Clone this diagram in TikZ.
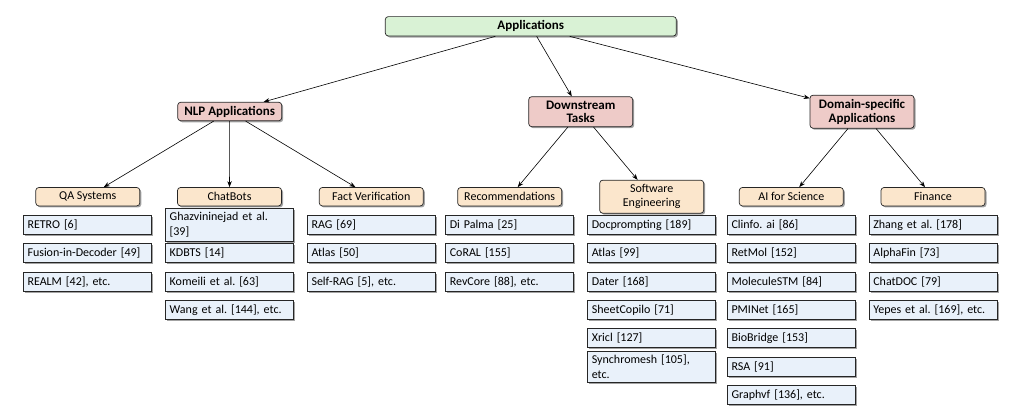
\documentclass[tikz,border=0pt]{standalone}
\usepackage{fontspec}
\setmainfont{Carlito}
\usetikzlibrary{shadows,arrows.meta}
\frenchspacing
\definecolor{rootgreen}{HTML}{D9F2D5}
\definecolor{midred}{HTML}{EECBC8}
\definecolor{tanbox}{HTML}{FBE6CC}
\definecolor{leafblue}{HTML}{E9F1FA}
\tikzset{
  base/.style={draw=black!85, line width=0.7pt, drop shadow={shadow xshift=1.5pt, shadow yshift=-1.5pt, fill=black!45, opacity=0.8}},
  rootbox/.style={base, rounded corners=3pt, fill=rootgreen, minimum width=291pt, minimum height=19.4pt, font=\fontsize{13}{14}\selectfont\bfseries, inner sep=1pt},
  midbox/.style={base, rounded corners=3pt, fill=midred, minimum width=104pt, minimum height=18.5pt, align=center, font=\fontsize{13}{13.5}\selectfont\bfseries, inner sep=1.5pt},
  catbox/.style={base, rounded corners=3pt, fill=tanbox, minimum width=104pt, minimum height=18.4pt, align=center, font=\fontsize{12}{14}\selectfont, inner sep=1.5pt},
  leafbox/.style={base, fill=leafblue, minimum width=128pt, minimum height=19pt, text width=120pt, align=left, inner xsep=4pt, inner ysep=2pt, font=\fontsize{12}{14.4}\selectfont\frenchspacing},
  arr/.style={-{Stealth[length=6pt,width=4.5pt]}, line width=0.6pt}
}
\begin{document}
\begin{tikzpicture}[x=1pt,y=-1pt]
\useasboundingbox (0,0) rectangle (1035,418);
% root
\node[rootbox] (root) at (530.8,26.3) {Applications};
% level 2
\node[midbox] (nlp) at (229.7,111.5) {NLP Applications};
\node[midbox, minimum height=30pt] (down) at (580.7,111.7) {Downstream\\Tasks};
\node[midbox, minimum height=33pt] (dom) at (862,111.7) {Domain-specific\\Applications};
% level 3
\node[catbox] (qa) at (87.8,196.7) {QA Systems};
\node[catbox] (chat) at (229.5,196.7) {ChatBots};
\node[catbox] (fact) at (371.3,196.7) {Fact Verification};
\node[catbox] (rec) at (509.7,196.7) {Recommendations};
\node[catbox, minimum height=33pt] (se) at (651.7,196.7) {Software\\Engineering};
\node[catbox] (ai) at (791.3,196.7) {AI for Science};
\node[catbox] (fin) at (933,196.7) {Finance};
% edges
\draw[arr] (root) -- (nlp);
\draw[arr] (root) -- (down);
\draw[arr] (root) -- (dom);
\draw[arr] (nlp) -- (qa);
\draw[arr] (nlp) -- (chat);
\draw[arr] (nlp) -- (fact);
\draw[arr] (down) -- (rec);
\draw[arr] (down) -- (se);
\draw[arr] (dom) -- (ai);
\draw[arr] (dom) -- (fin);
% leaves: QA
\node[leafbox] (qa1) at (87.5,224.7) {RETRO [6]};
\node[leafbox] (qa2) at (87.5,253.1) {Fusion-in-Decoder [49]};
\node[leafbox] (qa3) at (87.5,281.5) {REALM [42], etc.};
% ChatBots
\node[leafbox, minimum height=33pt] (ch1) at (229.7,224.7) {Ghazvininejad et al.\\ {[39]}};
\node[leafbox] (ch2) at (229.7,253.1) {KDBTS [14]};
\node[leafbox] (ch3) at (229.7,281.5) {Komeili et al. [63]};
\node[leafbox] (ch4) at (229.7,309.9) {Wang et al. [144], etc.};
% Fact verification
\node[leafbox] (fv1) at (371.5,224.7) {RAG [69]};
\node[leafbox] (fv2) at (371.5,253.1) {Atlas [50]};
\node[leafbox] (fv3) at (371.5,281.5) {Self-RAG [5], etc.};
% Recommendations
\node[leafbox] (rc1) at (509.8,224.7) {Di Palma [25]};
\node[leafbox] (rc2) at (509.8,253.1) {CoRAL [155]};
\node[leafbox] (rc3) at (509.8,281.5) {RevCore [88], etc.};
% Software engineering
\node[leafbox] (se1) at (651.8,224.7) {Docprompting [189]};
\node[leafbox] (se2) at (651.8,253.1) {Atlas [99]};
\node[leafbox] (se3) at (651.8,281.5) {Dater [168]};
\node[leafbox] (se4) at (651.8,309.9) {SheetCopilo [71]};
\node[leafbox] (se5) at (651.8,338.3) {Xricl [127]};
\node[leafbox, minimum height=31pt] (se6) at (651.8,366.7) {Synchromesh [105],\\ etc.};
% AI for science
\node[leafbox] (ai1) at (791.5,224.7) {Clinfo. ai [86]};
\node[leafbox] (ai2) at (791.5,253.1) {RetMol [152]};
\node[leafbox] (ai3) at (791.5,281.5) {MoleculeSTM [84]};
\node[leafbox] (ai4) at (791.5,309.9) {PMINet [165]};
\node[leafbox] (ai5) at (791.5,338.3) {BioBridge [153]};
\node[leafbox] (ai6) at (791.5,366.7) {RSA [91]};
\node[leafbox] (ai7) at (791.5,395.1) {Graphvf [136], etc.};
% Finance
\node[leafbox] (fn1) at (933.3,224.7) {Zhang et al. [178]};
\node[leafbox] (fn2) at (933.3,253.1) {AlphaFin [73]};
\node[leafbox] (fn3) at (933.3,281.5) {ChatDOC [79]};
\node[leafbox] (fn4) at (933.3,309.9) {Yepes et al. [169], etc.};
\end{tikzpicture}
\end{document}
